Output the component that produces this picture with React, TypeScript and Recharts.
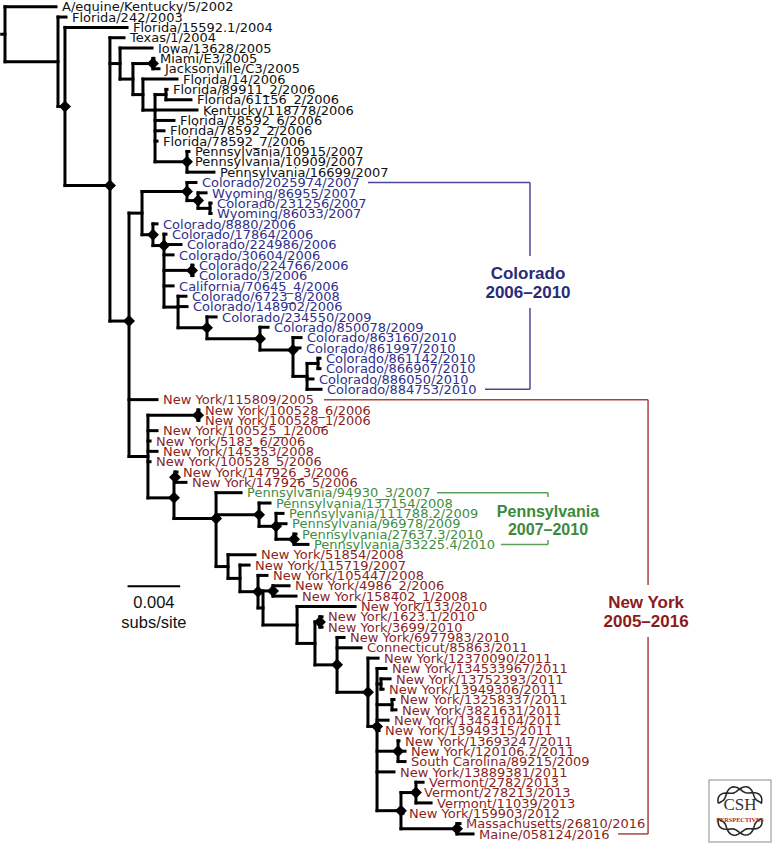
import React from 'react';
import { ComposedChart, XAxis, YAxis, Scatter, ReferenceLine } from 'recharts';

// ---------- DATA ----------
// Leaves in drawing order (top to bottom); row = index
const leafNames: string[] = [
  'A/equine/Kentucky/5/2002', 'Florida/242/2003', 'Florida/15592.1/2004', 'Texas/1/2004',
  'Iowa/13628/2005', 'Miami/E3/2005', 'Jacksonville/C3/2005', 'Florida/14/2006',
  'Florida/89911_2/2006', 'Florida/61156_2/2006', 'Kentucky/118778/2006', 'Florida/78592_6/2006',
  'Florida/78592_2/2006', 'Florida/78592_7/2006', 'Pennsylvania/10915/2007', 'Pennsylvania/10909/2007',
  'Pennsylvania/16699/2007', 'Colorado/2025974/2007', 'Wyoming/86955/2007', 'Colorado/231256/2007',
  'Wyoming/86033/2007', 'Colorado/8880/2006', 'Colorado/17864/2006', 'Colorado/224986/2006',
  'Colorado/30604/2006', 'Colorado/224766/2006', 'Colorado/3/2006', 'California/70645_4/2006',
  'Colorado/6723_8/2008', 'Colorado/148902/2006', 'Colorado/234550/2009', 'Colorado/850078/2009',
  'Colorado/863160/2010', 'Colorado/861997/2010', 'Colorado/861142/2010', 'Colorado/866907/2010',
  'Colorado/886050/2010', 'Colorado/884753/2010', 'New York/115809/2005', 'New York/100528_6/2006',
  'New York/100528_1/2006', 'New York/100525_1/2006', 'New York/5183_6/2006', 'New York/145353/2008',
  'New York/100528_5/2006', 'New York/147926_3/2006', 'New York/147926_5/2006', 'Pennsylvania/94930_3/2007',
  'Pennsylvania/137154/2008', 'Pennsylvania/111788.2/2009', 'Pennsylvania/96978/2009', 'Pennsylvania/27637.3/2010',
  'Pennsylvania/33225.4/2010', 'New York/51854/2008', 'New York/115719/2007', 'New York/105447/2008',
  'New York/4986_2/2006', 'New York/158402_1/2008', 'New York/133/2010', 'New York/1623.1/2010',
  'New York/3699/2010', 'New York/6977983/2010', 'Connecticut/85863/2011', 'New York/12370090/2011',
  'New York/134533967/2011', 'New York/13752393/2011', 'New York/13949306/2011', 'New York/13258337/2011',
  'New York/3821631/2011', 'New York/13454104/2011', 'New York/13949315/2011', 'New York/13693247/2011',
  'New York/120106.2/2011', 'South Carolina/89215/2009', 'New York/13889381/2011', 'Vermont/2782/2013',
  'Vermont/278213/2013', 'Vermont/11039/2013', 'New York/159903/2012', 'Massachusetts/26810/2016',
  'Maine/058124/2016',
];

// Clade of each leaf: k = other, b = Colorado, r = New York, g = Pennsylvania
const leafClades: string =
  'kkkkkkkkkkkkkkkkk' + 'bbbbbbbbbbbbbbbbbbbbb' + 'rrrrrrrrr' + 'gggggg' + 'rrrrrrrrrrrrrrrrrrrrrrrrrrrr';

const leafParents: string[] = [
  'root', 'A', 'B', 'C', 'E', 'F', 'F', 'H', 'J', 'J', 'I', 'I', 'I', 'I', 'K', 'K', 'K',
  'W', 'W2', 'W3', 'W3', 'L', 'M', 'M', 'M', 'CP', 'CP', 'M', 'N', 'N', 'P', 'Q', 'R', 'R', 'T', 'T', 'S', 'S',
  'D', 'NP', 'NP', 'U', 'U', 'U', 'U', 'P1', 'P1', 'X', 'Y', 'Y2', 'Y2', 'Y3', 'Y3',
  'Z', 'TT', 'RR', 'SS', 'SS', 'QQ', 'PP', 'PP', 'BB', 'BB', 'CC', 'DD', 'II', 'II', 'JJ', 'JJ', 'DD', 'DD',
  'GG', 'GG', 'GG', 'DD', 'KK', 'KK', 'KK', 'EE', 'FF', 'FF',
];

// Divergence at tips (x 0.001 subs/site)
const leafDepths: number[] = [
  3.88, 4.64, 9.28, 9.05, 11.18, 11.33, 11.71, 13.08, 12.32, 14.14, 14.6, 12.85, 12.09, 11.56, 13.99, 13.99, 15.89,
  14.52, 15.29, 15.67, 15.67, 11.56, 12.24, 13.38, 12.78, 14.3, 14.3, 12.78, 13.76, 13.84, 16.05, 20.0, 22.51, 22.43,
  23.95, 23.95, 23.42, 24.03,
  11.56, 14.75, 14.75, 11.56, 11.03, 11.56, 11.03, 13.08, 13.76,
  17.95, 20.15, 21.14, 21.37, 22.13, 23.04,
  19.01, 18.56, 19.92, 21.6, 22.13, 26.62, 24.11, 24.11, 25.78, 27.07, 28.37, 28.97, 29.28, 28.75, 29.58, 29.73,
  29.13, 28.44, 29.96, 30.42, 30.42, 29.58, 31.79, 31.41, 32.4, 30.27, 34.6, 35.59,
];

// Internal nodes
const nodeIds: string[] = [
  'root', 'A', 'B', 'C', 'E', 'G', 'F', 'H', 'I', 'J', 'K', 'D', 'CO', 'W', 'W2', 'W3', 'L', 'M', 'CP', 'N',
  'P', 'Q', 'R', 'S', 'T', 'U', 'NP', 'V', 'P1', 'X', 'Y', 'Y2', 'Y3', 'Z', 'TT', 'RR', 'RR2', 'SS', 'QQ', 'AA',
  'PP', 'BB', 'CC', 'DD', 'II', 'JJ', 'GG', 'EE', 'KK', 'FF',
];
const nodeParents: string[] = [
  '', 'root', 'A', 'B', 'C', 'E', 'G', 'G', 'H', 'I', 'I', 'C', 'D', 'CO', 'W', 'W2', 'CO', 'L', 'M', 'M',
  'N', 'P', 'Q', 'R', 'S', 'D', 'U', 'U', 'V', 'V', 'X', 'Y', 'Y2', 'X', 'Z', 'TT', 'RR', 'RR2', 'RR2', 'QQ',
  'AA', 'AA', 'BB', 'CC', 'DD', 'DD', 'DD', 'DD', 'EE', 'EE',
];
const nodeDepths: number[] = [
  0, 4.03, 4.56, 7.98, 8.75, 9.73, 11.25, 10.49, 11.41, 12.24, 13.84, 9.43, 10.42, 13.84, 14.68, 15.59, 11.25,
  12.09, 14.22, 13.16, 15.36, 19.39, 21.9, 22.97, 23.8, 10.87, 14.68, 12.85, 12.93, 16.05, 19.32, 20.61, 21.98,
  16.96, 17.87, 19.24, 19.62, 20.38, 22.21, 23.57, 23.95, 25.25, 27.6, 28.29, 28.59, 29.43, 29.89, 30.11, 31.25,
  34.37,
];
// 1 = well-supported node (diamond)
const nodeSupport: number[] = [
  0, 0, 1, 1, 0, 0, 1, 0, 0, 0, 1, 1, 0, 1, 1, 0, 1, 1, 1, 0,
  1, 1, 1, 0, 0, 0, 1, 1, 1, 1, 1, 1, 1, 0, 0, 1, 0, 1, 0, 0,
  1, 1, 1, 1, 0, 0, 1, 1, 1, 1,
];
// Rows where a stem joins its node when it is not at the midpoint of the children
const nodeRowOverride: Record<string, number> = {
  C: 17.3, D: 30.4, I: 10, M: 23.1, N: 29.05, R: 33.2, X: 49.5, DD: 69.6,
};

const scaleBarValue = 4; // x 0.001 = 0.004 subs/site

// ---------- LAYOUT ----------
const X_MIN = -0.38;
const X_MAX = 58.4;
const Y_MIN = -0.648;
const Y_MAX = 81.07;

const depthOf: Record<string, number> = {};
const supportOf: Record<string, number> = {};
const parentOf: Record<string, string> = {};
nodeIds.forEach((id, i) => {
  depthOf[id] = nodeDepths[i];
  supportOf[id] = nodeSupport[i];
  parentOf[id] = nodeParents[i];
});
const childRows: Record<string, number[]> = {};
nodeIds.forEach((id) => (childRows[id] = []));

const nodeRow: Record<string, number> = {};
function rowOfNode(id: string): number {
  if (nodeRow[id] !== undefined) return nodeRow[id];
  const rows: number[] = [];
  leafParents.forEach((p, i) => { if (p === id) rows.push(i); });
  nodeIds.forEach((c, i) => { if (nodeParents[i] === id) rows.push(rowOfNode(c)); });
  childRows[id] = rows;
  const mn = Math.min(...rows);
  const mx = Math.max(...rows);
  const r = nodeRowOverride[id] !== undefined ? nodeRowOverride[id] : (mn + mx) / 2;
  nodeRow[id] = r;
  return r;
}
nodeIds.forEach((id) => rowOfNode(id));

type Seg = { x1: number; y1: number; x2: number; y2: number };
const treeSegs: Seg[] = [];
leafNames.forEach((_, i) => {
  treeSegs.push({ x1: depthOf[leafParents[i]], y1: i, x2: leafDepths[i], y2: i });
});
nodeIds.forEach((id) => {
  const rows = childRows[id];
  treeSegs.push({ x1: depthOf[id], y1: Math.min(...rows), x2: depthOf[id], y2: Math.max(...rows) });
  const p = parentOf[id];
  if (p) treeSegs.push({ x1: depthOf[p], y1: nodeRow[id], x2: depthOf[id], y2: nodeRow[id] });
});
treeSegs.push({ x1: -0.25, y1: nodeRow['root'], x2: 0, y2: nodeRow['root'] });

const cladeLabelColor: Record<string, string> = { k: '#111111', b: '#30308c', r: '#8a1f1f', g: '#3f8e3f' };

const leafPoints = leafNames.map((name, i) => ({ x: leafDepths[i], y: i, name, clade: leafClades[i] }));
const diamondPoints = nodeIds
  .filter((id) => supportOf[id] === 1)
  .map((id) => ({ x: depthOf[id], y: nodeRow[id] }));

const COL_B = '#4a4a98';
const COL_R = '#a94343';
const COL_G = '#5a9f5a';
const bracketSegs: (Seg & { color: string })[] = [
  // Colorado
  { x1: 27.6, y1: 17, x2: 39.92, y2: 17, color: COL_B },
  { x1: 39.92, y1: 17, x2: 39.92, y2: 24.11, color: COL_B },
  { x1: 39.92, y1: 29.14, x2: 39.92, y2: 37, color: COL_B },
  { x1: 36.5, y1: 37, x2: 39.92, y2: 37, color: COL_B },
  // New York
  { x1: 24.26, y1: 38, x2: 48.9, y2: 38, color: COL_R },
  { x1: 48.9, y1: 38, x2: 48.9, y2: 55.93, color: COL_R },
  { x1: 48.9, y1: 60.96, x2: 48.9, y2: 80, color: COL_R },
  { x1: 46.62, y1: 80, x2: 48.9, y2: 80, color: COL_R },
  // Pennsylvania
  { x1: 32.85, y1: 47, x2: 41.29, y2: 47, color: COL_G },
  { x1: 41.29, y1: 47, x2: 41.29, y2: 47.42, color: COL_G },
  { x1: 37.72, y1: 52, x2: 41.29, y2: 52, color: COL_G },
  { x1: 41.29, y1: 51.58, x2: 41.29, y2: 52, color: COL_G },
];

const HEAD_FONT = 'Liberation Sans, Arial, Helvetica, sans-serif';
const annotations = [
  { x: 39.77, y: 26.33, text: 'Colorado', color: '#2b2a78', size: 17, weight: 'bold' },
  { x: 39.77, y: 28.17, text: '2006–2010', color: '#2b2a78', size: 17, weight: 'bold' },
  { x: 48.75, y: 58.15, text: 'New York', color: '#8b1a1a', size: 17, weight: 'bold' },
  { x: 48.75, y: 59.99, text: '2005–2016', color: '#8b1a1a', size: 17, weight: 'bold' },
  { x: 41.29, y: 49.35, text: 'Pennsylvania', color: '#3b8a3b', size: 16, weight: 'bold' },
  { x: 41.29, y: 51.1, text: '2007–2010', color: '#3b8a3b', size: 16, weight: 'bold' },
  { x: 11.32, y: 58.12, text: '0.004', color: '#111', size: 16.5, weight: 'normal' },
  { x: 11.32, y: 60.09, text: 'subs/site', color: '#111', size: 16.5, weight: 'normal' },
];

function helixPath(cx: number, cy: number, rx: number, ry: number, a0: number, a1: number, amp: number, k: number, sign: number) {
  const pts: string[] = [];
  const n = 48;
  for (let i = 0; i <= n; i++) {
    const t = a0 + ((a1 - a0) * i) / n;
    const off = sign * amp * Math.sin(k * (t - a0));
    const x = cx + (rx + off) * Math.cos(t);
    const y = cy + (ry + off) * Math.sin(t);
    pts.push(`${i ? 'L' : 'M'}${x.toFixed(1)},${y.toFixed(1)}`);
  }
  return pts.join(' ');
}

const LeafLabel = (props: any) => {
  const { cx, cy, payload } = props;
  return (
    <text x={cx + 6} y={cy} dy="0.36em" fontFamily="DejaVu Sans, Verdana, sans-serif" fontSize={13}
      fill={cladeLabelColor[payload.clade]}>
      {payload.name}
    </text>
  );
};

const Diamond = (props: any) => {
  const { cx, cy } = props;
  const h = 6;
  return <path d={`M${cx},${cy - h} L${cx + h},${cy} L${cx},${cy + h} L${cx - h},${cy} Z`} fill="#000" />;
};

const Annotation = (props: any) => {
  const { cx, cy, payload } = props;
  return (
    <text x={cx} y={cy} textAnchor="middle" fontFamily={HEAD_FONT} fontSize={payload.size}
      fontWeight={payload.weight} fill={payload.color}>
      {payload.text}
    </text>
  );
};

const Logo = (props: any) => {
  const { cx, cy } = props;
  const top0 = Math.PI + 0.35;
  const top1 = 2 * Math.PI - 0.35;
  const bot0 = 0.35;
  const bot1 = Math.PI - 0.35;
  return (
    <g>
      <rect x={cx - 31} y={cy - 31} width={62} height={62} fill="#fff" stroke="#b3b3b3" strokeWidth={1.5} />
      <path d={helixPath(cx, cy, 23, 22, top0, top1, 3, 5.2, 1)} fill="none" stroke="#2a2a2a" strokeWidth={1.6} />
      <path d={helixPath(cx, cy, 23, 22, top0, top1, 3, 5.2, -1)} fill="none" stroke="#2a2a2a" strokeWidth={1.6} />
      <path d={helixPath(cx, cy, 23, 22, bot0, bot1, 3, 5.2, 1)} fill="none" stroke="#2a2a2a" strokeWidth={1.6} />
      <path d={helixPath(cx, cy, 23, 22, bot0, bot1, 3, 5.2, -1)} fill="none" stroke="#2a2a2a" strokeWidth={1.6} />
      <text x={cx} y={cy - 1} textAnchor="middle" fontFamily="Liberation Serif, serif" fontSize={17}
        fill="#333">CSH</text>
      <text x={cx} y={cy + 11} textAnchor="middle" fontFamily="Liberation Serif, serif" fontSize={6.3}
        fontWeight="bold" fill="#b3262a">PERSPECTIVES</text>
    </g>
  );
};

export default function App() {
  return (
    <div style={{ position: 'absolute', left: 0, top: 0, width: 773, height: 845, background: '#fff' }}>
      <ComposedChart width={773} height={845} margin={{ top: 0, right: 0, bottom: 0, left: 0 }}>
        <XAxis type="number" dataKey="x" domain={[X_MIN, X_MAX]} hide allowDataOverflow />
        <YAxis type="number" dataKey="y" domain={[Y_MIN, Y_MAX]} reversed hide allowDataOverflow />
        {bracketSegs.map((s, i) => (
          <ReferenceLine key={'b' + i} segment={[{ x: s.x1, y: s.y1 }, { x: s.x2, y: s.y2 }]}
            stroke={s.color} strokeWidth={1.5} ifOverflow="visible" />
        ))}
        {treeSegs.map((s, i) => (
          <ReferenceLine key={'t' + i} segment={[{ x: s.x1, y: s.y1 }, { x: s.x2, y: s.y2 }]}
            stroke="#000" strokeWidth={3} strokeLinecap="square" ifOverflow="visible" />
        ))}
        <ReferenceLine segment={[{ x: 9.32, y: 56.04 }, { x: 9.32 + scaleBarValue, y: 56.04 }]}
          stroke="#000" strokeWidth={2} ifOverflow="visible" />
        <Scatter data={diamondPoints} shape={Diamond} isAnimationActive={false} />
        <Scatter data={leafPoints} shape={LeafLabel} isAnimationActive={false} />
        <Scatter data={annotations} shape={Annotation} isAnimationActive={false} />
        <Scatter data={[{ x: 55.89, y: 77.78 }]} shape={Logo} isAnimationActive={false} />
      </ComposedChart>
    </div>
  );
}
